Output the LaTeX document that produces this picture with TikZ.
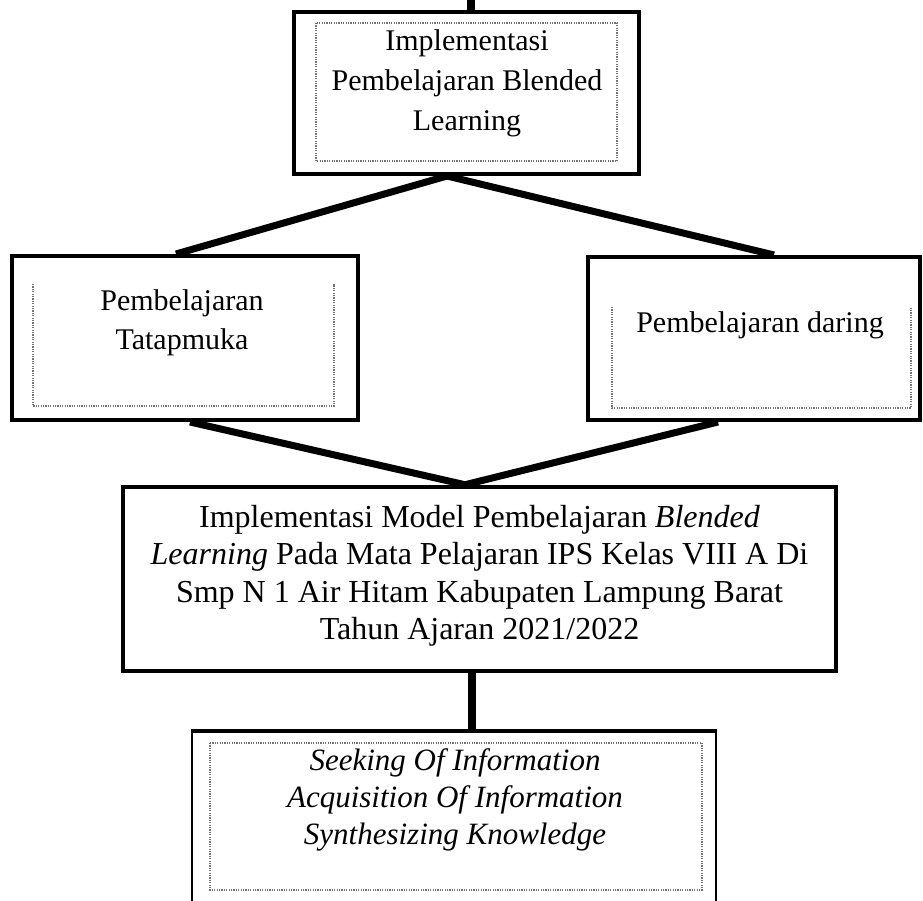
\documentclass[tikz,border=0pt]{standalone}
\usepackage{fontspec}
\setmainfont{Liberation Serif}
\usetikzlibrary{calc}
\tikzset{
  boxouter/.style={draw=black, line width=4pt, fill=none, inner sep=0pt},
  boxthin/.style={draw=black, line width=2pt, inner sep=0pt},
  dotbox/.style={draw=black!55, line width=1.3pt, dash pattern=on 1.2pt off 1.2pt},
  conn/.style={draw=black, line width=7pt},
  stem/.style={draw=black, line width=8pt},
  smalltxt/.style={align=center, inner sep=0pt, font=\fontsize{30}{40}\selectfont},
  bigtxt/.style={align=center, inner sep=0pt, font=\fontsize{32}{37.5}\selectfont},
  itxt/.style={align=center, inner sep=0pt, font=\fontsize{31}{37}\selectfont\itshape}
}
\begin{document}
\begin{tikzpicture}[x=1pt,y=-1pt]
\clip (0,0) rectangle (923,901);
\fill[white] (0,0) rectangle (923,901);

% boxes
\node[boxouter, minimum width=345pt, minimum height=162pt] (top) at (466.5,93) {};
\node[boxouter, minimum width=346pt, minimum height=164pt] (left) at (185,338) {};
\node[boxouter, minimum width=332pt, minimum height=163pt] (right) at (754,338.5) {};
\node[boxouter, line width=4.5pt, minimum width=713pt, minimum height=184pt] (mid) at (479.5,579) {};
\node[boxthin, minimum width=524pt, minimum height=180pt] (bot) at (454,822) {};
\draw[line width=4pt] (bot.north west) -- (bot.north east);

% inner dotted frames
\draw[dotbox] (316,23) rectangle (617,161);
\draw[dotbox] (33,284) -- (33,406) -- (334,406) -- (334,284);
\draw[dotbox] (612,307) -- (612,408) -- (911,408) -- (911,307);
\draw[dotbox] (210,743) rectangle (702,890);

% texts
\node[smalltxt] (ttop) at (467,83) {Implementasi\\Pembelajaran Blended\\Learning};
\node[smalltxt, font=\fontsize{30}{39}\selectfont] (tleft) at (182,322.5) {Pembelajaran\\Tatapmuka};
\node[smalltxt] (tright) at (760,325) {Pembelajaran daring};
\node[bigtxt] (tmid) at (479.5,576) {Implementasi Model Pembelajaran \textit{Blended}\\\textit{Learning} Pada Mata Pelajaran IPS Kelas VIII A Di\\Smp N 1 Air Hitam Kabupaten Lampung Barat\\Tahun Ajaran 2021/2022};
\node[itxt] (tbot) at (455,800) {Seeking Of Information\\Acquisition Of Information\\Synthesizing Knowledge};

% connectors
\coordinate (stubtop) at (471,-2);
\draw[stem] (stubtop) -- (stubtop |- top.north);
\coordinate (tsplit) at ($(top.south)+(-19.5,0)$);
\draw[conn] (tsplit) -- ([xshift=-9pt]left.north);
\draw[conn] (tsplit) -- ([xshift=20pt]right.north);
\coordinate (mjoin) at ($(mid.north)+(-14.5,0)$);
\draw[conn] ([xshift=5pt]left.south) -- (mjoin);
\draw[conn] ([xshift=-36pt]right.south) -- (mjoin);
\draw[stem] ([xshift=-7.5pt]mid.south) -- ([xshift=18pt]bot.north);
\end{tikzpicture}
\end{document}
